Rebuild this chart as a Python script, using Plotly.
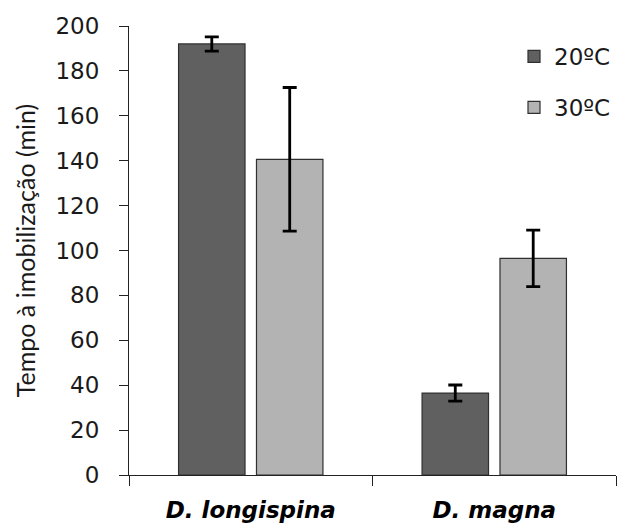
import plotly.graph_objects as go

species = ["<i><b>D. longispina</b></i>", "<i><b>D. magna</b></i>"]
temps = ["20ºC", "30ºC"]
mean_20 = [192, 36.5]
err_20 = [3.2, 3.6]
mean_30 = [140.6, 96.5]
err_30 = [32, 12.6]
colors = ["#606060", "#b3b3b3"]
y_ticks = list(range(0, 201, 20))

fig = go.Figure()
for name, vals, errs, col, grp in [
    (temps[0], mean_20, err_20, colors[0], "a"),
    (temps[1], mean_30, err_30, colors[1], "b"),
]:
    fig.add_trace(go.Bar(
        x=species, y=vals, name=name, legendgroup=grp,
        marker=dict(color=col, line=dict(color="#303030", width=1.2)),
        error_y=dict(type="data", array=errs, color="black", thickness=2.8, width=7),
    ))

fig.update_layout(
    width=618, height=523,
    margin=dict(l=129, r=2, t=26, b=48),
    paper_bgcolor="white", plot_bgcolor="white",
    barmode="group", bargap=0.36, bargroupgap=0.147,
    font=dict(family="DejaVu Sans", color="#1a1a1a"),
    legend=dict(x=1.0, xanchor="right", y=0.98, yanchor="top",
                font=dict(size=23, family="DejaVu Sans", color="#1a1a1a"),
                tracegroupgap=18, itemwidth=30, bgcolor="rgba(0,0,0,0)"),
    showlegend=True,
)
fig.update_xaxes(
    showline=True, linecolor="#222", linewidth=1.2,
    ticks="outside", tickson="boundaries", ticklen=10, tickcolor="#222",
    tickfont=dict(size=23, family="DejaVu Sans", color="black"),
    ticklabelstandoff=14, automargin=False,
)
fig.update_yaxes(
    range=[0, 200], tickvals=y_ticks, showgrid=False, zeroline=False,
    showline=True, linecolor="#222", linewidth=1.2,
    ticks="outside", ticklen=9, tickcolor="#222",
    tickfont=dict(size=23, family="DejaVu Sans", color="#1a1a1a"),
    ticklabelstandoff=15, automargin=False,
    title=dict(text="Tempo à imobilização (min)", standoff=12,
               font=dict(size=25, family="Lato", color="#1a1a1a")),
)

fig.write_html("out.html")
